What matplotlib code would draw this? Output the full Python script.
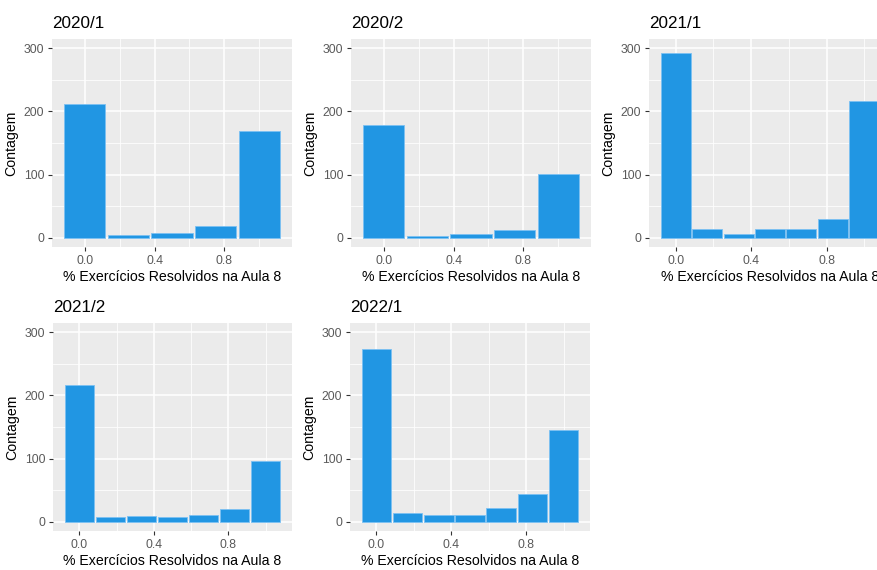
"""Histogramas do percentual de exercícios resolvidos na Aula 8, por semestre."""

import matplotlib
matplotlib.use("Agg")
import matplotlib.pyplot as plt
import numpy as np
from matplotlib.ticker import MultipleLocator, FixedLocator

plt.rcParams["font.family"] = ["Liberation Sans", "DejaVu Sans"]

# Contagens por classe (classes igualmente espaçadas, centradas de 0 a 1)
SEMESTERS = ["2020/1", "2020/2", "2021/1", "2021/2", "2022/1"]
COUNTS_2020_1 = [212, 4, 8, 18, 169]
COUNTS_2020_2 = [179, 2, 6, 12, 101]
COUNTS_2021_1 = [293, 13, 6, 13, 13, 30, 217]
COUNTS_2021_2 = [216, 7, 9, 7, 11, 20, 96]
COUNTS_2022_1 = [274, 13, 11, 11, 22, 44, 146]
ALL_COUNTS = [COUNTS_2020_1, COUNTS_2020_2, COUNTS_2021_1, COUNTS_2021_2, COUNTS_2022_1]

X_LABEL = "% Exercícios Resolvidos na Aula 8"
Y_LABEL = "Contagem"
X_TICKS = [0.0, 0.4, 0.8]
X_MINOR = [0.2, 0.6, 1.0]
Y_TICKS = [0, 100, 200, 300]

FILL = "#2196E3"
EDGE = "#7cc0f2"
PANEL_BG = "#EBEBEB"

W, H = 877, 570
# painel (esq, dir, topo, base) em pixels
PANELS = [
    (52, 292, 39, 247),
    (351, 591, 39, 247),
    (649, 891, 39, 247),
    (53, 292, 323, 531),
    (350, 590, 323, 531),
]


def draw_panel(ax, title, counts):
    n = len(counts)
    centers = np.linspace(0, 1, n)
    width = 1 / (n - 1)
    ax.bar(centers, counts, width=width * 0.95, color=FILL, edgecolor=EDGE,
           linewidth=0.6, zorder=3)
    half = width / 2
    span = 1 + width
    ax.set_xlim(-half - 0.05 * span, 1 + half + 0.05 * span)
    ax.set_ylim(-15, 315)

    ax.set_facecolor(PANEL_BG)
    ax.xaxis.set_major_locator(FixedLocator(X_TICKS))
    ax.xaxis.set_minor_locator(FixedLocator(X_MINOR))
    ax.set_xticklabels([f"{t:.1f}" for t in X_TICKS])
    ax.yaxis.set_major_locator(FixedLocator(Y_TICKS))
    ax.yaxis.set_minor_locator(MultipleLocator(50))
    ax.grid(which="major", color="white", linewidth=1.1, zorder=0)
    ax.grid(which="minor", color="white", linewidth=0.55, zorder=0)
    ax.set_axisbelow(True)
    for side in ax.spines.values():
        side.set_visible(False)
    ax.tick_params(which="major", length=3, width=0.8, color="#333333",
                   labelsize=8.8, labelcolor="#5a5a5a", pad=2.5)
    ax.tick_params(which="minor", length=0)

    ax.set_title(title, loc="left", fontsize=12.3, pad=8, color="black")
    ax.set_xlabel(X_LABEL, fontsize=10.2, labelpad=2.5)
    ax.set_ylabel(Y_LABEL, fontsize=10.2, labelpad=4)


fig = plt.figure(figsize=(W / 100, H / 100), dpi=100)
fig.patch.set_facecolor("white")

for (left, right, top, bottom), title, counts in zip(PANELS, SEMESTERS, ALL_COUNTS):
    ax = fig.add_axes([left / W, 1 - bottom / H, (right - left) / W, (bottom - top) / H])
    draw_panel(ax, title, counts)

fig.savefig("out.png", dpi=100)
